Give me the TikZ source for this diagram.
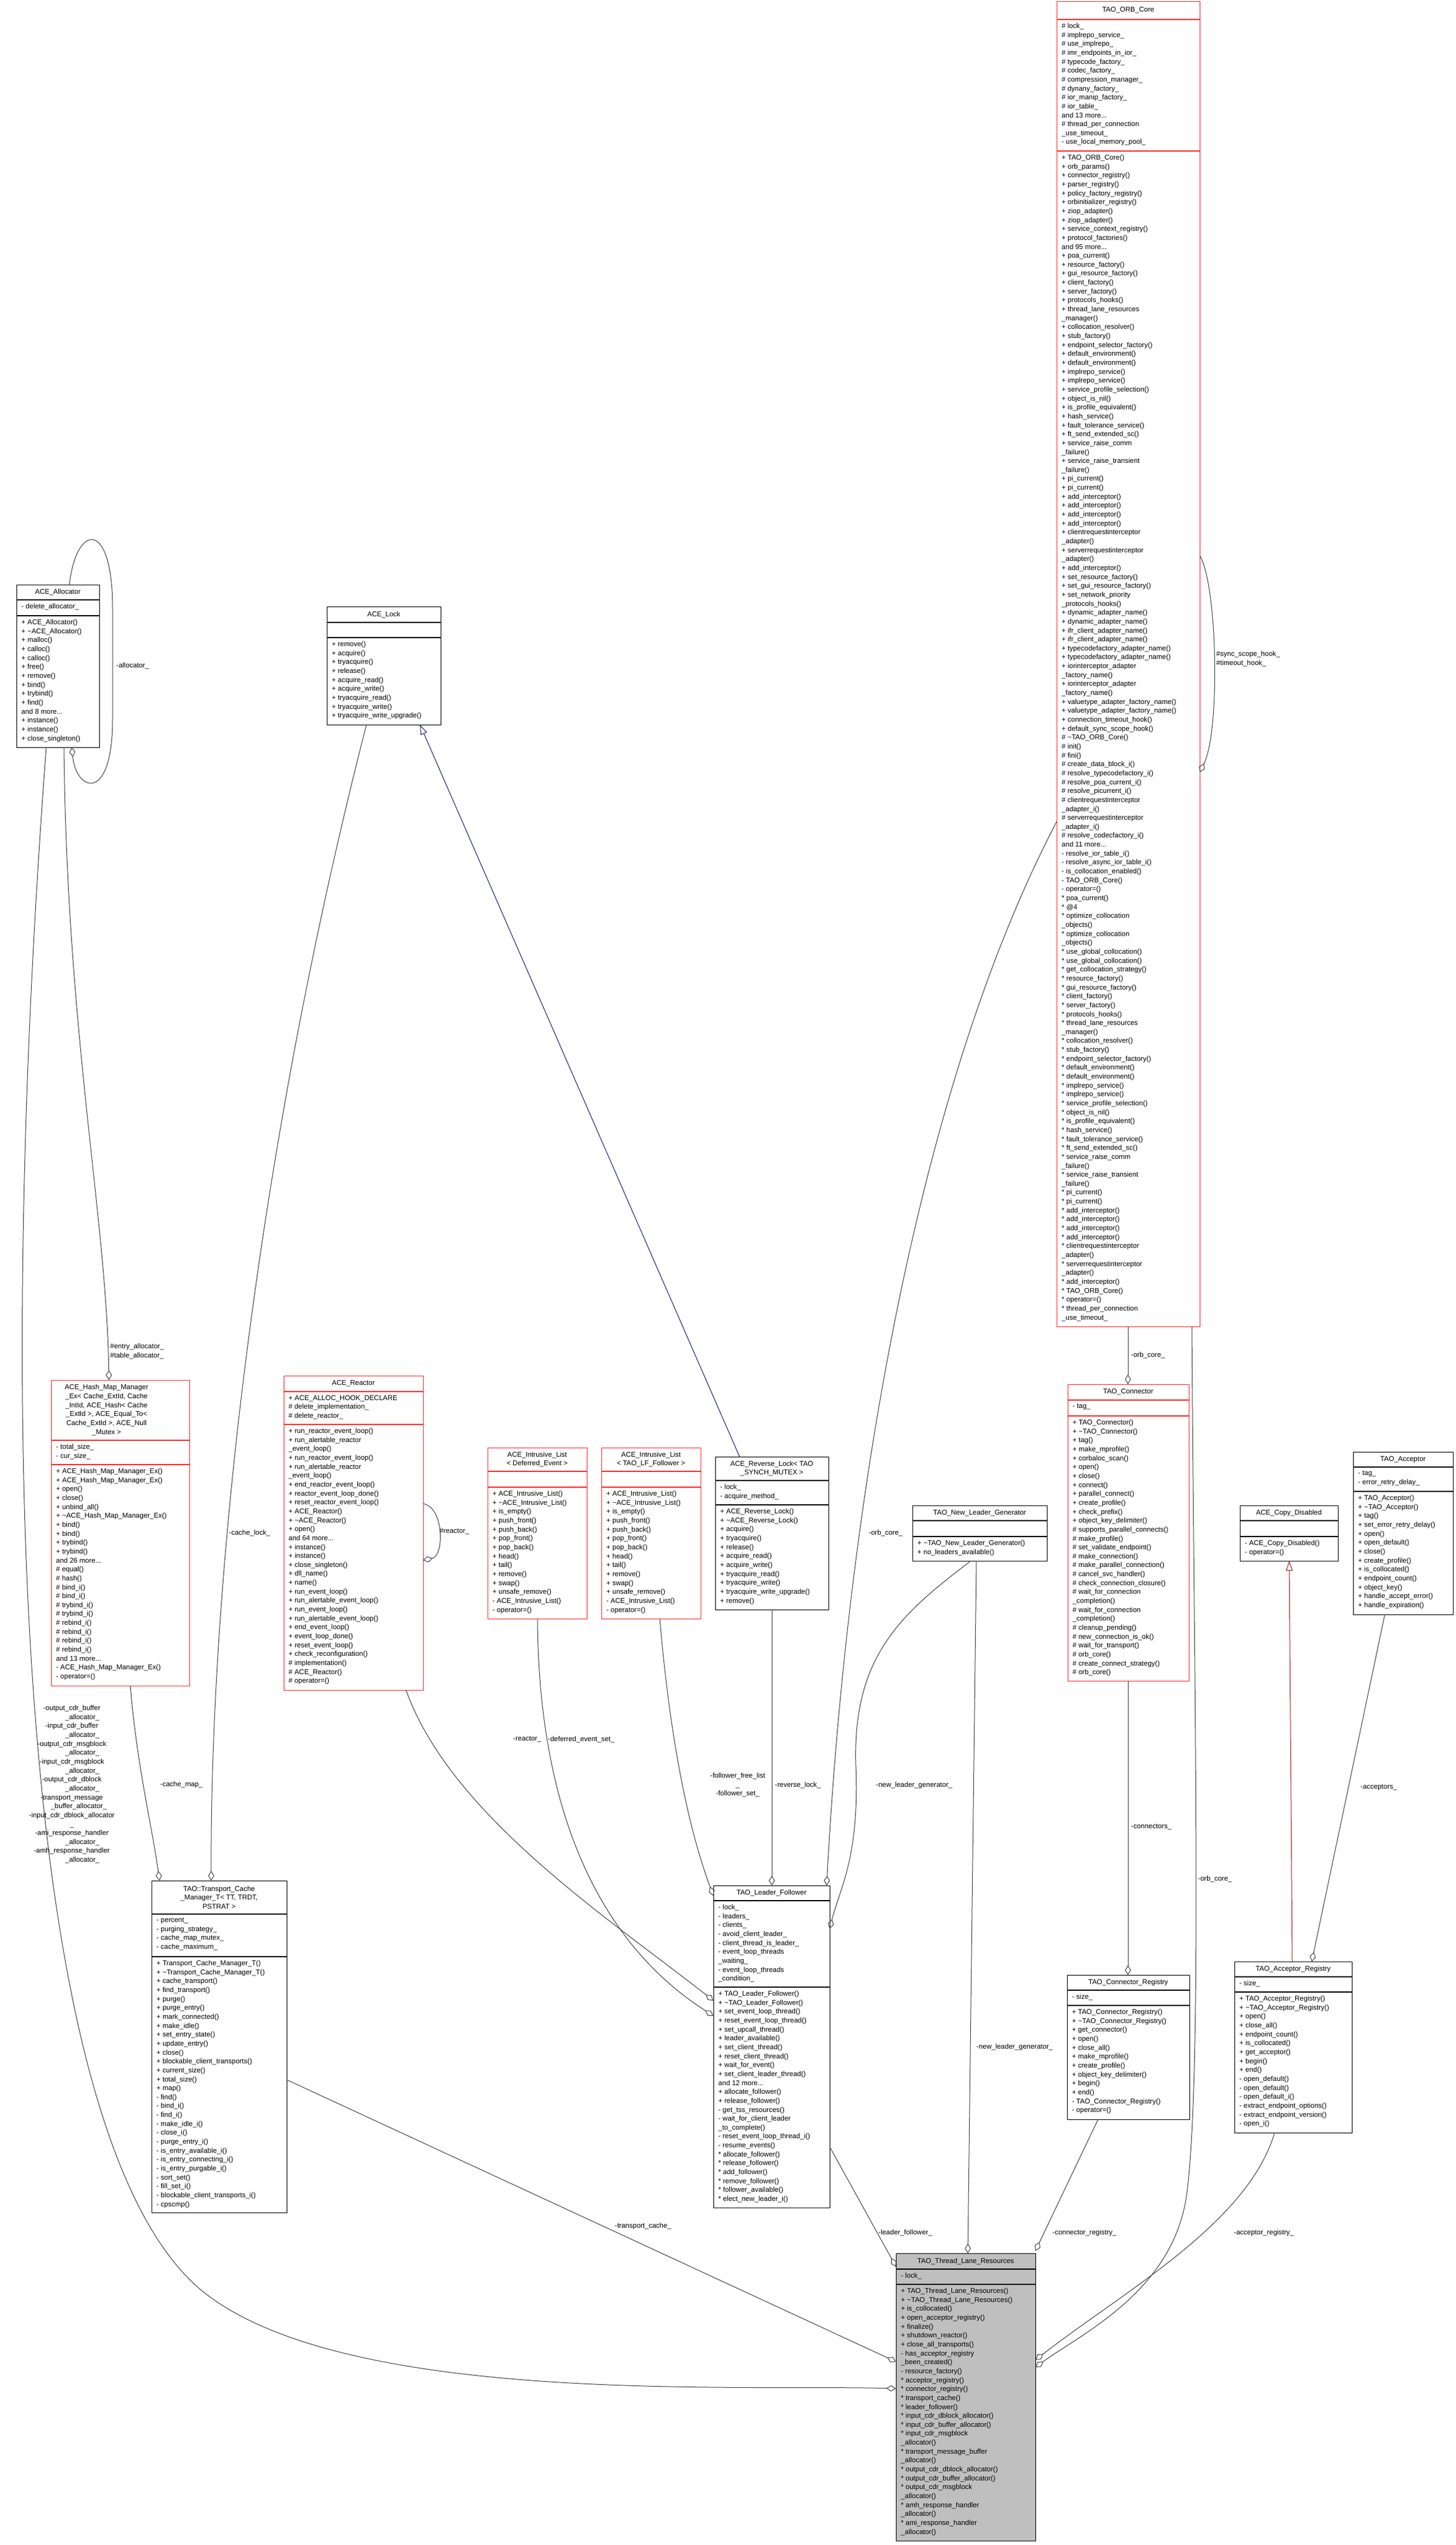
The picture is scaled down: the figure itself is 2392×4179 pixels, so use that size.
\documentclass[tikz,border=0pt]{standalone}
\usepackage{fontspec}
\setmainfont{Liberation Sans}
\usetikzlibrary{arrows.meta}
\definecolor{redbox}{RGB}{255,40,40}
\definecolor{edgec}{RGB}{64,64,64}
\definecolor{tlrfill}{RGB}{191,191,191}
\definecolor{navyc}{RGB}{25,25,112}
\definecolor{inhred}{RGB}{160,30,30}
\newcommand\umlbox[9]{%
  \node[draw=#8, fill=#9, line width=1.3pt, minimum width={#3-#2}, minimum height={#7-#4}, anchor=north west, inner sep=0] (#1) at (#2,#4) {};
  \draw[draw=#8, line width=1.3pt] (#2,#5) -- (#3,#5) (#2,#6) -- (#3,#6);}
\begin{document}
\begin{tikzpicture}[x=1pt,y=-1pt,
  txt/.style={font=\fontsize{11.5}{14.65}\selectfont, inner sep=0, align=left, anchor=north west},
  ttl/.style={font=\fontsize{11.5}{14.65}\selectfont, inner sep=0, align=center},
  lbl/.style={font=\fontsize{11.5}{14.65}\selectfont, inner sep=0, anchor=west, align=left},
  agg/.style={draw=edgec, line width=1pt, -{Diamond[open,length=16pt,width=10pt]}},
  inhb/.style={draw=navyc, line width=1pt, -{Triangle[open,length=16pt,width=11pt]}},
  inhr/.style={draw=inhred, line width=1pt, -{Triangle[open,length=16pt,width=11pt]}}]
\useasboundingbox (0,0) rectangle (2392,4179);
\fill[white] (0,0) rectangle (2392,4179);

% ---------- ACE_Allocator
\umlbox{alloc}{27}{163}{960}{985}{1011}{1227}{black}{white}
\node[ttl] at (95,972.5) {ACE\_Allocator};
\node[txt] at (35,991) {- delete\_allocator\_};
\node[txt] at (35,1017) {+ ACE\_Allocator()\\+ \textasciitilde ACE\_Allocator()\\+ malloc()\\+ calloc()\\+ calloc()\\+ free()\\+ remove()\\+ bind()\\+ trybind()\\+ find()\\and 8 more...\\+ instance()\\+ instance()\\+ close\_singleton()};

% ---------- ACE_Lock
\umlbox{lock}{537}{724}{996}{1022}{1047}{1190}{black}{white}
\node[ttl] at (630.5,1009) {ACE\_Lock};
\node[txt] at (545,1053) {+ remove()\\+ acquire()\\+ tryacquire()\\+ release()\\+ acquire\_read()\\+ acquire\_write()\\+ tryacquire\_read()\\+ tryacquire\_write()\\+ tryacquire\_write\_upgrade()};

% ---------- TAO_ORB_Core
\umlbox{orb}{1736}{1971}{2}{32}{248}{2178}{redbox}{white}
\node[ttl] at (1853.5,17) {TAO\_ORB\_Core};
\node[txt] at (1744,38) {\# lock\_\\\# implrepo\_service\_\\\# use\_implrepo\_\\\# imr\_endpoints\_in\_ior\_\\\# typecode\_factory\_\\\# codec\_factory\_\\\# compression\_manager\_\\\# dynany\_factory\_\\\# ior\_manip\_factory\_\\\# ior\_table\_\\and 13 more...\\\# thread\_per\_connection\\\_use\_timeout\_\\- use\_local\_memory\_pool\_};
\node[txt] at (1744,254) {+ TAO\_ORB\_Core()\\+ orb\_params()\\+ connector\_registry()\\+ parser\_registry()\\+ policy\_factory\_registry()\\+ orbinitializer\_registry()\\+ ziop\_adapter()\\+ ziop\_adapter()\\+ service\_context\_registry()\\+ protocol\_factories()\\and 95 more...\\+ poa\_current()\\+ resource\_factory()\\+ gui\_resource\_factory()\\+ client\_factory()\\+ server\_factory()\\+ protocols\_hooks()\\+ thread\_lane\_resources\\\_manager()\\+ collocation\_resolver()\\+ stub\_factory()\\+ endpoint\_selector\_factory()\\+ default\_environment()\\+ default\_environment()\\+ implrepo\_service()\\+ implrepo\_service()\\+ service\_profile\_selection()\\+ object\_is\_nil()\\+ is\_profile\_equivalent()\\+ hash\_service()\\+ fault\_tolerance\_service()\\+ ft\_send\_extended\_sc()};
\node[txt] at (1744,722.8) {+ service\_raise\_comm\\\_failure()\\+ service\_raise\_transient\\\_failure()\\+ pi\_current()\\+ pi\_current()\\+ add\_interceptor()\\+ add\_interceptor()\\+ add\_interceptor()\\+ add\_interceptor()\\+ clientrequestinterceptor\\\_adapter()\\+ serverrequestinterceptor\\\_adapter()\\+ add\_interceptor()\\+ set\_resource\_factory()\\+ set\_gui\_resource\_factory()\\+ set\_network\_priority\\\_protocols\_hooks()\\+ dynamic\_adapter\_name()\\+ dynamic\_adapter\_name()\\+ ifr\_client\_adapter\_name()\\+ ifr\_client\_adapter\_name()\\+ typecodefactory\_adapter\_name()\\+ typecodefactory\_adapter\_name()\\+ iorinterceptor\_adapter\\\_factory\_name()\\+ iorinterceptor\_adapter\\\_factory\_name()\\+ valuetype\_adapter\_factory\_name()\\+ valuetype\_adapter\_factory\_name()\\+ connection\_timeout\_hook()\\+ default\_sync\_scope\_hook()};
\node[txt] at (1744,1206.25) {\# \textasciitilde TAO\_ORB\_Core()\\\# init()\\\# fini()\\\# create\_data\_block\_i()\\\# resolve\_typecodefactory\_i()\\\# resolve\_poa\_current\_i()\\\# resolve\_picurrent\_i()\\\# clientrequestinterceptor\\\_adapter\_i()\\\# serverrequestinterceptor\\\_adapter\_i()\\\# resolve\_codecfactory\_i()\\and 11 more...\\- resolve\_ior\_table\_i()\\- resolve\_async\_ior\_table\_i()\\- is\_collocation\_enabled()\\- TAO\_ORB\_Core()\\- operator=()};
\node[txt] at (1744,1470) {* poa\_current()\\* @4\\* optimize\_collocation\\\_objects()\\* optimize\_collocation\\\_objects()\\* use\_global\_collocation()\\* use\_global\_collocation()\\* get\_collocation\_strategy()\\* resource\_factory()\\* gui\_resource\_factory()\\* client\_factory()\\* server\_factory()\\* protocols\_hooks()\\* thread\_lane\_resources\\\_manager()\\* collocation\_resolver()\\* stub\_factory()\\* endpoint\_selector\_factory()\\* default\_environment()\\* default\_environment()\\* implrepo\_service()\\* implrepo\_service()\\* service\_profile\_selection()\\* object\_is\_nil()\\* is\_profile\_equivalent()\\* hash\_service()\\* fault\_tolerance\_service()\\* ft\_send\_extended\_sc()};
\node[txt] at (1744,1894.8) {* service\_raise\_comm\\\_failure()\\* service\_raise\_transient\\\_failure()\\* pi\_current()\\* pi\_current()\\* add\_interceptor()\\* add\_interceptor()\\* add\_interceptor()\\* add\_interceptor()\\* clientrequestinterceptor\\\_adapter()\\* serverrequestinterceptor\\\_adapter()\\* add\_interceptor()\\* TAO\_ORB\_Core()\\* operator=()\\* thread\_per\_connection\\\_use\_timeout\_};

% ---------- Hash map
\umlbox{hmap}{84}{311}{2266}{2365}{2405}{2768}{redbox}{white}
\node[ttl] at (175,2315.5) {ACE\_Hash\_Map\_Manager\\\_Ex< Cache\_ExtId, Cache\\\_IntId, ACE\_Hash< Cache\\\_ExtId >, ACE\_Equal\_To<\\Cache\_ExtId >, ACE\_Null\\\_Mutex >};
\node[txt] at (92,2371) {- total\_size\_\\- cur\_size\_};
\node[txt] at (92,2411) {+ ACE\_Hash\_Map\_Manager\_Ex()\\+ ACE\_Hash\_Map\_Manager\_Ex()\\+ open()\\+ close()\\+ unbind\_all()\\+ \textasciitilde ACE\_Hash\_Map\_Manager\_Ex()\\+ bind()\\+ bind()\\+ trybind()\\+ trybind()\\and 26 more...\\\# equal()\\\# hash()\\\# bind\_i()\\\# bind\_i()\\\# trybind\_i()\\\# trybind\_i()\\\# rebind\_i()\\\# rebind\_i()\\\# rebind\_i()\\\# rebind\_i()\\and 13 more...\\- ACE\_Hash\_Map\_Manager\_Ex()\\- operator=()};

% ---------- Reactor
\umlbox{reactor}{466}{695}{2259}{2285}{2339}{2775}{redbox}{white}
\node[ttl] at (580.5,2272) {ACE\_Reactor};
\node[txt] at (474,2291) {+ ACE\_ALLOC\_HOOK\_DECLARE\\\# delete\_implementation\_\\\# delete\_reactor\_};
\node[txt] at (474,2345) {+ run\_reactor\_event\_loop()\\+ run\_alertable\_reactor\\\_event\_loop()\\+ run\_reactor\_event\_loop()\\+ run\_alertable\_reactor\\\_event\_loop()\\+ end\_reactor\_event\_loop()\\+ reactor\_event\_loop\_done()\\+ reset\_reactor\_event\_loop()\\+ ACE\_Reactor()\\+ \textasciitilde ACE\_Reactor()\\+ open()\\and 64 more...\\+ instance()\\+ instance()\\+ close\_singleton()\\+ dll\_name()\\+ name()\\+ run\_event\_loop()\\+ run\_alertable\_event\_loop()\\+ run\_event\_loop()\\+ run\_alertable\_event\_loop()\\+ end\_event\_loop()\\+ event\_loop\_done()\\+ reset\_event\_loop()\\+ check\_reconfiguration()\\\# implementation()\\\# ACE\_Reactor()\\\# operator=()};

% ---------- Intrusive lists
\umlbox{ilde}{801}{964}{2377}{2416}{2442}{2658}{redbox}{white}
\node[ttl] at (882.5,2396.5) {ACE\_Intrusive\_List\\< Deferred\_Event >};
\node[txt] at (809,2448) {+ ACE\_Intrusive\_List()\\+ \textasciitilde ACE\_Intrusive\_List()\\+ is\_empty()\\+ push\_front()\\+ push\_back()\\+ pop\_front()\\+ pop\_back()\\+ head()\\+ tail()\\+ remove()\\+ swap()\\+ unsafe\_remove()\\- ACE\_Intrusive\_List()\\- operator=()};
\umlbox{illf}{988}{1151}{2377}{2416}{2442}{2658}{redbox}{white}
\node[ttl] at (1069.5,2396.5) {ACE\_Intrusive\_List\\< TAO\_LF\_Follower >};
\node[txt] at (996,2448) {+ ACE\_Intrusive\_List()\\+ \textasciitilde ACE\_Intrusive\_List()\\+ is\_empty()\\+ push\_front()\\+ push\_back()\\+ pop\_front()\\+ pop\_back()\\+ head()\\+ tail()\\+ remove()\\+ swap()\\+ unsafe\_remove()\\- ACE\_Intrusive\_List()\\- operator=()};

% ---------- Reverse lock
\umlbox{rlock}{1175}{1361}{2392}{2431}{2471}{2643}{black}{white}
\node[ttl] at (1268,2411.5) {ACE\_Reverse\_Lock< TAO\\\_SYNCH\_MUTEX >};
\node[txt] at (1183,2437) {- lock\_\\- acquire\_method\_};
\node[txt] at (1183,2477) {+ ACE\_Reverse\_Lock()\\+ \textasciitilde ACE\_Reverse\_Lock()\\+ acquire()\\+ tryacquire()\\+ release()\\+ acquire\_read()\\+ acquire\_write()\\+ tryacquire\_read()\\+ tryacquire\_write()\\+ tryacquire\_write\_upgrade()\\+ remove()};

% ---------- Connector
\umlbox{conn}{1754}{1953}{2273}{2299}{2325}{2760}{redbox}{white}
\node[ttl] at (1853.5,2286) {TAO\_Connector};
\node[txt] at (1762,2305) {- tag\_};
\node[txt] at (1762,2331) {+ TAO\_Connector()\\+ \textasciitilde TAO\_Connector()\\+ tag()\\+ make\_mprofile()\\+ corbaloc\_scan()\\+ open()\\+ close()\\+ connect()\\+ parallel\_connect()\\+ create\_profile()\\+ check\_prefix()\\+ object\_key\_delimiter()\\\# supports\_parallel\_connects()\\\# make\_profile()\\\# set\_validate\_endpoint()\\\# make\_connection()\\\# make\_parallel\_connection()\\\# cancel\_svc\_handler()\\\# check\_connection\_closure()\\\# wait\_for\_connection\\\_completion()\\\# wait\_for\_connection\\\_completion()\\\# cleanup\_pending()\\\# new\_connection\_is\_ok()\\\# wait\_for\_transport()\\\# orb\_core()\\\# create\_connect\_strategy()\\\# orb\_core()};

% ---------- New leader generator
\umlbox{nlg}{1499}{1720}{2472}{2497}{2523}{2563}{black}{white}
\node[ttl] at (1609.5,2484.5) {TAO\_New\_Leader\_Generator};
\node[txt] at (1507,2529) {+ \textasciitilde TAO\_New\_Leader\_Generator()\\+ no\_leaders\_available()};

% ---------- Copy disabled
\umlbox{copyd}{2037}{2198}{2472}{2497}{2523}{2563}{black}{white}
\node[ttl] at (2117.5,2484.5) {ACE\_Copy\_Disabled};
\node[txt] at (2045,2529) {- ACE\_Copy\_Disabled()\\- operator=()};

% ---------- Acceptor
\umlbox{acc}{2223}{2387}{2384}{2409}{2449}{2651}{black}{white}
\node[ttl] at (2305,2396.5) {TAO\_Acceptor};
\node[txt] at (2231,2415) {- tag\_\\- error\_retry\_delay\_};
\node[txt] at (2231,2455) {+ TAO\_Acceptor()\\+ \textasciitilde TAO\_Acceptor()\\+ tag()\\+ set\_error\_retry\_delay()\\+ open()\\+ open\_default()\\+ close()\\+ create\_profile()\\+ is\_collocated()\\+ endpoint\_count()\\+ object\_key()\\+ handle\_accept\_error()\\+ handle\_expiration()};

% ---------- Transport cache
\umlbox{tcache}{249}{471}{3088}{3143}{3213}{3633}{black}{white}
\node[ttl] at (360,3115.5) {TAO::Transport\_Cache\\\_Manager\_T< TT, TRDT,\\PSTRAT >};
\node[txt] at (257,3149) {- percent\_\\- purging\_strategy\_\\- cache\_map\_mutex\_\\- cache\_maximum\_};
\node[txt] at (257,3219) {+ Transport\_Cache\_Manager\_T()\\+ \textasciitilde Transport\_Cache\_Manager\_T()\\+ cache\_transport()\\+ find\_transport()\\+ purge()\\+ purge\_entry()\\+ mark\_connected()\\+ make\_idle()\\+ set\_entry\_state()\\+ update\_entry()\\+ close()\\+ blockable\_client\_transports()\\+ current\_size()\\+ total\_size()\\+ map()\\- find()\\- bind\_i()\\- find\_i()\\- make\_idle\_i()\\- close\_i()\\- purge\_entry\_i()\\- is\_entry\_available\_i()\\- is\_entry\_connecting\_i()\\- is\_entry\_purgable\_i()\\- sort\_set()\\- fill\_set\_i()\\- blockable\_client\_transports\_i()\\- cpscmp()};

% ---------- Leader follower
\umlbox{lf}{1172}{1363}{3096}{3121}{3263}{3625}{black}{white}
\node[ttl] at (1267.5,3108.5) {TAO\_Leader\_Follower};
\node[txt] at (1180,3127) {- lock\_\\- leaders\_\\- clients\_\\- avoid\_client\_leader\_\\- client\_thread\_is\_leader\_\\- event\_loop\_threads\\\_waiting\_\\- event\_loop\_threads\\\_condition\_};
\node[txt] at (1180,3269) {+ TAO\_Leader\_Follower()\\+ \textasciitilde TAO\_Leader\_Follower()\\+ set\_event\_loop\_thread()\\+ reset\_event\_loop\_thread()\\+ set\_upcall\_thread()\\+ leader\_available()\\+ set\_client\_thread()\\+ reset\_client\_thread()\\+ wait\_for\_event()\\+ set\_client\_leader\_thread()\\and 12 more...\\+ allocate\_follower()\\+ release\_follower()\\- get\_tss\_resources()\\- wait\_for\_client\_leader\\\_to\_complete()\\- reset\_event\_loop\_thread\_i()\\- resume\_events()\\* allocate\_follower()\\* release\_follower()\\* add\_follower()\\* remove\_follower()\\* follower\_available()\\* elect\_new\_leader\_i()};

% ---------- Connector registry
\umlbox{creg}{1753}{1954}{3243}{3268}{3293}{3480}{black}{white}
\node[ttl] at (1853.5,3255.5) {TAO\_Connector\_Registry};
\node[txt] at (1761,3274) {- size\_};
\node[txt] at (1761,3299) {+ TAO\_Connector\_Registry()\\+ \textasciitilde TAO\_Connector\_Registry()\\+ get\_connector()\\+ open()\\+ close\_all()\\+ make\_mprofile()\\+ create\_profile()\\+ object\_key\_delimiter()\\+ begin()\\+ end()\\- TAO\_Connector\_Registry()\\- operator=()};

% ---------- Acceptor registry
\umlbox{areg}{2028}{2221}{3221}{3246}{3271}{3502}{black}{white}
\node[ttl] at (2124.5,3233.5) {TAO\_Acceptor\_Registry};
\node[txt] at (2036,3252) {- size\_};
\node[txt] at (2036,3277) {+ TAO\_Acceptor\_Registry()\\+ \textasciitilde TAO\_Acceptor\_Registry()\\+ open()\\+ close\_all()\\+ endpoint\_count()\\+ is\_collocated()\\+ get\_acceptor()\\+ begin()\\+ end()\\- open\_default()\\- open\_default()\\- open\_default\_i()\\- extract\_endpoint\_options()\\- extract\_endpoint\_version()\\- open\_i()};

% ---------- Thread lane resources
\umlbox{tlr}{1472}{1701}{3700}{3726}{3751}{4172}{black}{tlrfill}
\node[ttl] at (1586.5,3713) {TAO\_Thread\_Lane\_Resources};
\node[txt] at (1480,3732) {- lock\_};
\node[txt] at (1480,3757) {+ TAO\_Thread\_Lane\_Resources()\\+ \textasciitilde TAO\_Thread\_Lane\_Resources()\\+ is\_collocated()\\+ open\_acceptor\_registry()\\+ finalize()\\+ shutdown\_reactor()\\+ close\_all\_transports()\\- has\_acceptor\_registry\\\_been\_created()\\- resource\_factory()\\* acceptor\_registry()\\* connector\_registry()\\* transport\_cache()\\* leader\_follower()\\* input\_cdr\_dblock\_allocator()\\* input\_cdr\_buffer\_allocator()\\* input\_cdr\_msgblock\\\_allocator()\\* transport\_message\_buffer\\\_allocator()\\* output\_cdr\_dblock\_allocator()\\* output\_cdr\_buffer\_allocator()\\* output\_cdr\_msgblock\\\_allocator()\\* amh\_response\_handler\\\_allocator()\\* ami\_response\_handler\\\_allocator()};

% ---------- connector end points
\coordinate (allocTop) at (114,960);
\coordinate (allocSelf) at (118,1227);
\coordinate (allocB1) at (105,1227);
\coordinate (allocB2) at (76,1227);
\coordinate (hmapTop) at (179,2266);
\coordinate (hmapBot) at (214,2768);
\coordinate (tcD1) at (262,3088);
\coordinate (tcD2) at (347,3088);
\coordinate (tcRight) at (471,3415);
\coordinate (lockBot) at (602,1190);
\coordinate (lockInh) at (690,1190);
\coordinate (rlockTop) at (1215,2392);
\coordinate (rlockBot) at (1268,2643);
\coordinate (reacR1) at (695,2469);
\coordinate (reacR2) at (695,2562);
\coordinate (reacBot) at (667,2775);
\coordinate (ildeBot) at (883,2658);
\coordinate (illfBot) at (1084,2658);
\coordinate (lfL1) at (1172,3113);
\coordinate (lfL2) at (1172,3285);
\coordinate (lfL3) at (1172,3310);
\coordinate (lfTop) at (1268,3096);
\coordinate (lfTopR) at (1358,3096);
\coordinate (lfR) at (1363,3167);
\coordinate (lfOut) at (1363,3525);
\coordinate (orbL) at (1736,1349);
\coordinate (orbR1) at (1971,912);
\coordinate (orbR2) at (1971,1268);
\coordinate (orbB1) at (1853,2178);
\coordinate (orbB2) at (1958,2178);
\coordinate (connTop) at (1853,2273);
\coordinate (connBot) at (1853,2760);
\coordinate (nlgB1) at (1595,2563);
\coordinate (nlgB2) at (1604,2563);
\coordinate (copyBot) at (2118,2563);
\coordinate (accBot) at (2275,2651);
\coordinate (cregTop) at (1853,3243);
\coordinate (cregBot) at (1804,3480);
\coordinate (aregTop1) at (2123,3221);
\coordinate (aregTop2) at (2155,3221);
\coordinate (aregBot) at (2094,3502);
\coordinate (tlrTopL) at (1472,3722);
\coordinate (tlrTop) at (1590,3700);
\coordinate (tlrTopR) at (1701,3696);
\coordinate (tlrL1) at (1472,3878);
\coordinate (tlrL2) at (1472,3922);
\coordinate (tlrR1) at (1701,3875);
\coordinate (tlrR2) at (1701,3887);

% ---------- connectors
\draw[agg] (allocTop) .. controls (125,860) and (185,850) .. (185,1000) -- (185,1180) .. controls (185,1320) and (125,1300) .. (allocSelf);
\node[lbl] at (191,1093) {-allocator\_};
\draw[agg] (allocB1) .. controls (110,1700) and (175,2000) .. (hmapTop);
\node[lbl] at (181,2219) {\#entry\_allocator\_\\\#table\_allocator\_};
\draw[agg] (allocB2) .. controls (-5,2300) and (20,3500) .. (330,3760) .. controls (560,3950) and (1200,3915) .. (tlrL2);
\node[ttl,anchor=north] at (118,2800) {-output\_cdr\_buffer\\ \hspace*{3em}\_allocator\_\\-input\_cdr\_buffer\\ \hspace*{3em}\_allocator\_\\-output\_cdr\_msgblock\\ \hspace*{3em}\_allocator\_\\-input\_cdr\_msgblock\\ \hspace*{3em}\_allocator\_\\-output\_cdr\_dblock\\ \hspace*{3em}\_allocator\_\\-transport\_message\\ \hspace*{2em}\_buffer\_allocator\_\\-input\_cdr\_dblock\_allocator\\\_\\-ami\_response\_handler\\ \hspace*{3em}\_allocator\_\\-amh\_response\_handler\\ \hspace*{3em}\_allocator\_};
\draw[agg] (hmapBot) .. controls (225,2900) and (250,3000) .. (tcD1);
\node[lbl] at (263,2930) {-cache\_map\_};
\draw[agg] (lockBot) .. controls (420,1900) and (345,2600) .. (tcD2);
\node[lbl] at (376,2517) {-cache\_lock\_};
\draw[inhb] (rlockTop) -- (lockInh);
\draw[agg] (reacR1) .. controls (730,2475) and (730,2555) .. (reacR2);
\node[lbl] at (722,2515) {\#reactor\_};
\draw[agg] (reacBot) .. controls (740,2980) and (1000,3150) .. (lfL2);
\node[lbl] at (843,2856) {-reactor\_};
\draw[agg] (ildeBot) .. controls (885,3000) and (1000,3200) .. (lfL3);
\node[lbl] at (900,2856) {-deferred\_event\_set\_};
\draw[agg] (illfBot) .. controls (1100,2850) and (1130,3000) .. (lfL1);
\node[ttl] at (1212,2931) {-follower\_free\_list\\\_\\-follower\_set\_};
\draw[agg] (rlockBot) -- (lfTop);
\node[lbl] at (1273,2931) {-reverse\_lock\_};
\draw[agg] (orbL) .. controls (1500,1800) and (1390,2500) .. (lfTopR);
\node[lbl] at (1427,2517) {-orb\_core\_};
\draw[agg] (nlgB1) .. controls (1480,2650) and (1400,2720) .. (1406,2900) .. controls (1412,3050) and (1380,3100) .. (lfR);
\node[lbl] at (1439,2931) {-new\_leader\_generator\_};
\draw[agg] (nlgB2) -- (tlrTop);
\node[lbl] at (1604,3361) {-new\_leader\_generator\_};
\draw[agg] (orbR1) .. controls (2000,960) and (2005,1200) .. (orbR2);
\node[lbl] at (1998,1082) {\#sync\_scope\_hook\_\\\#timeout\_hook\_};
\draw[agg] (orbB1) -- (connTop);
\node[lbl] at (1858,2225) {-orb\_core\_};
\draw[agg] (orbB2) .. controls (1962,2800) and (1975,3400) .. (1950,3600) .. controls (1930,3760) and (1780,3830) .. (tlrR2);
\node[lbl] at (1968,3085) {-orb\_core\_};
\draw[agg] (connBot) -- (cregTop);
\node[lbl] at (1858,3000) {-connectors\_};
\draw[agg] (accBot) -- (aregTop2);
\node[lbl] at (2235,2935) {-acceptors\_};
\draw[inhr] (aregTop1) -- (copyBot);
\draw[agg] (cregBot) -- (tlrTopR);
\node[lbl] at (1729,3666) {-connector\_registry\_};
\draw[agg] (aregBot) .. controls (2050,3650) and (1850,3760) .. (tlrR1);
\node[lbl] at (2027,3666) {-acceptor\_registry\_};
\draw[agg] (tcRight) -- (tlrL1);
\node[lbl] at (1010,3655) {-transport\_cache\_};
\draw[agg] (lfOut) -- (tlrTopL);
\node[lbl] at (1443,3666) {-leader\_follower\_};
\end{tikzpicture}
\end{document}
